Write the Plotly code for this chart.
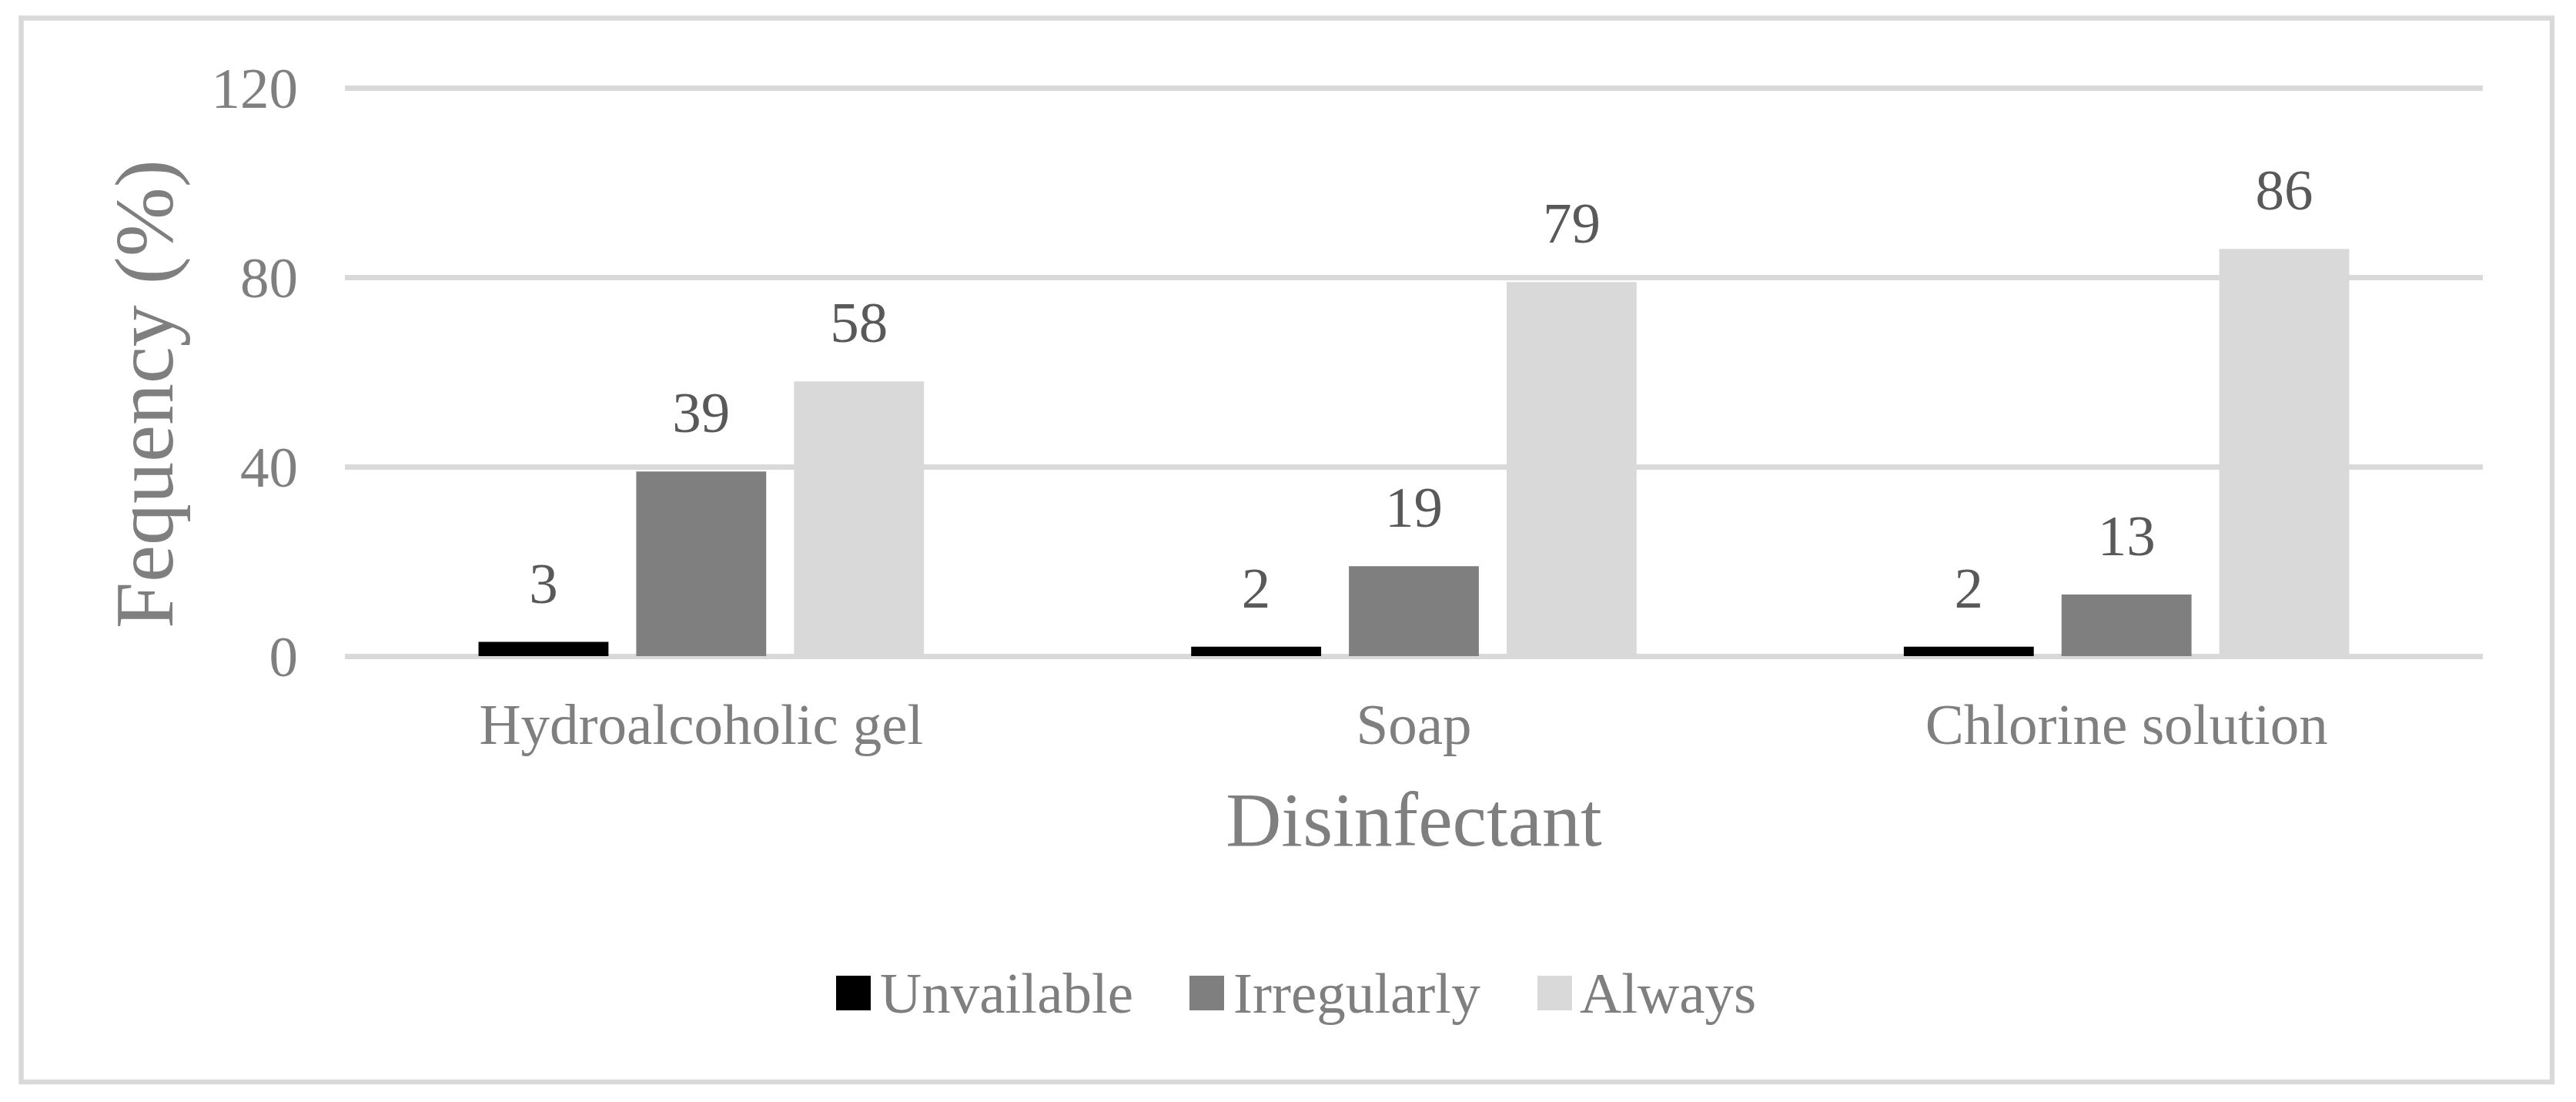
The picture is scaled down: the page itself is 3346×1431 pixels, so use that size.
import plotly.graph_objects as go

# ---------------- data ----------------
categories = ["Hydroalcoholic gel", "Soap", "Chlorine solution"]
series_names = ["Unvailable", "Irregularly", "Always"]
unavailable = [3, 2, 2]
irregularly = [39, 19, 13]
always = [58, 79, 86]
y_tick_values = [0, 40, 80, 120]
y_tick_labels = ["0", "40", "80", "120"]
x_title = "Disinfectant"
y_title = "Fequency (%)"

# ---------------- style ----------------
series_colors = ["#000000", "#7f7f7f", "#d9d9d9"]
FONT = "Liberation Serif, Times New Roman, serif"
GRAY = "#7f7f7f"
LABEL = "#595959"
GRID = "#d9d9d9"

W, H = 3346, 1431
L, R, T, B = 448, 121, 111, 579
PW = W - L - R
PH = H - T - B


def px_x(px):
    return (px - L) / PW


def px_y(py):
    return (H - B - py) / PH


series_values = [unavailable, irregularly, always]

fig = go.Figure()
for i, (name, vals, col) in enumerate(zip(series_names, series_values, series_colors)):
    fig.add_trace(go.Bar(
        name=name, x=categories, y=vals,
        marker=dict(color=col, line=dict(width=0)),
        offsetgroup=str(i), showlegend=False, hoverinfo="skip",
    ))

# value labels (grouped like the bars)
for i, (name, vals) in enumerate(zip(series_names, series_values)):
    fig.add_trace(go.Scatter(
        name=name + " labels", x=categories, y=vals,
        mode="markers+text", text=[str(v) for v in vals],
        textposition="top center",
        textfont=dict(family=FONT, size=75, color=LABEL),
        marker=dict(size=50, opacity=0),
        offsetgroup=str(i), showlegend=False, hoverinfo="skip",
        cliponaxis=False,
    ))

shapes = [
    dict(type="rect", xref="paper", yref="paper",
         x0=px_x(27.5), x1=px_x(3315), y0=px_y(1405), y1=px_y(23.5),
         line=dict(color=GRID, width=6.5), fillcolor="rgba(0,0,0,0)", layer="below"),
]
annotations = [
    dict(xref="paper", yref="paper", x=px_x(188), y=px_y(512),
         xanchor="center", yanchor="middle", textangle=-90, showarrow=False,
         text=y_title, font=dict(family=FONT, size=108, color=GRAY)),
]
legend_square_left = [1086, 1545, 1997]
legend_text_left = [1141, 1600, 2050]
for name, col, sx, tx in zip(series_names, series_colors, legend_square_left, legend_text_left):
    shapes.append(dict(type="rect", xref="paper", yref="paper",
                       x0=px_x(sx), x1=px_x(sx + 45), y0=px_y(1312), y1=px_y(1267),
                       line=dict(width=0), fillcolor=col, layer="above"))
    annotations.append(dict(xref="paper", yref="paper", x=px_x(tx), y=px_y(1289),
                            xanchor="left", yanchor="middle", showarrow=False,
                            text=name, font=dict(family=FONT, size=75, color=GRAY)))

fig.update_layout(
    template="none",
    width=W, height=H,
    margin=dict(l=L, r=R, t=T, b=B, pad=0),
    paper_bgcolor="white", plot_bgcolor="white",
    barmode="group", bargap=0.336, bargroupgap=0.176,
    scattermode="group", scattergap=0.336,
    showlegend=False,
    font=dict(family=FONT, color=GRAY),
    shapes=shapes, annotations=annotations,
)
fig.update_xaxes(
    type="category", showgrid=False, zeroline=False, showline=False,
    ticks="outside", ticklen=23, tickcolor="rgba(0,0,0,0)",
    tickfont=dict(family=FONT, size=75, color=GRAY),
    title=dict(text=x_title, font=dict(family=FONT, size=100, color=GRAY), standoff=46),
    automargin=False,
)
fig.update_yaxes(
    range=[0, 120.5], tickmode="array", tickvals=y_tick_values, ticktext=y_tick_labels,
    showgrid=True, gridcolor=GRID, gridwidth=6.5,
    zeroline=True, zerolinecolor=GRID, zerolinewidth=6.5, showline=False,
    ticks="outside", ticklen=45, tickcolor="rgba(0,0,0,0)",
    tickfont=dict(family=FONT, size=75, color=GRAY),
    automargin=False,
)

fig.write_html("out.html", config={"displayModeBar": False},
               post_script="document.body.style.margin='0';document.body.style.overflow='hidden';")
